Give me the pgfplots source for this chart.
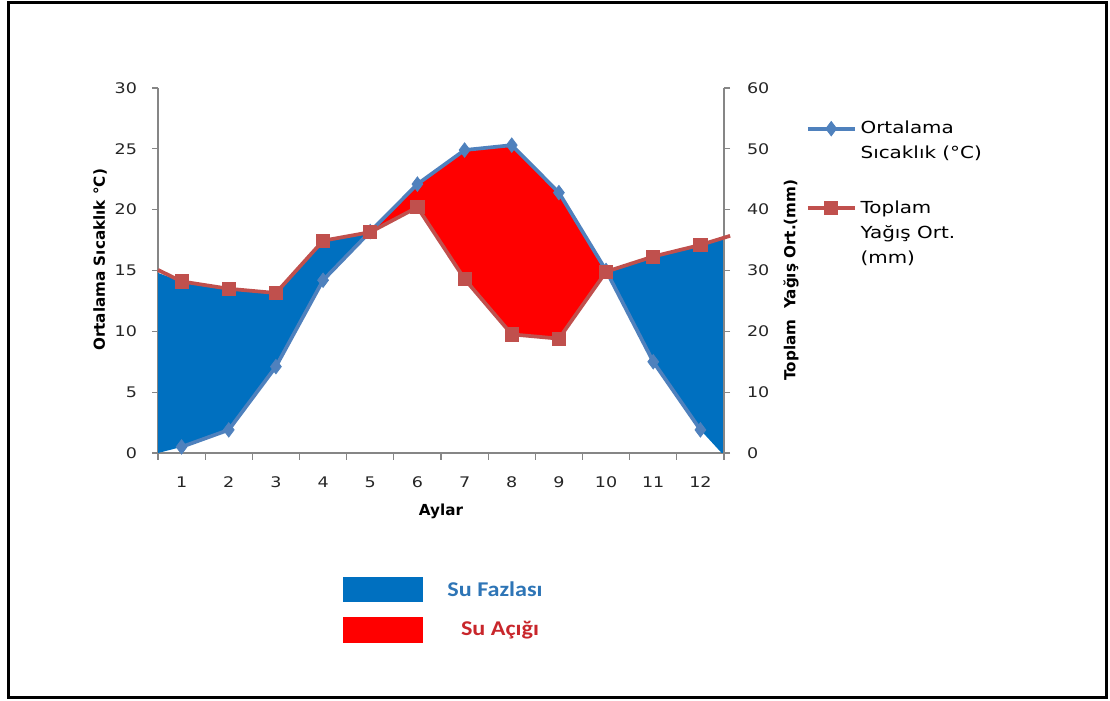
\documentclass[border=0pt]{standalone}
\usepackage{fontspec}
\setmainfont{DejaVu Sans}
\newfontfamily\tickfont{DejaVu Sans}[FakeStretch=1.2]
\newfontfamily\legfont{DejaVu Sans}[FakeStretch=1.2]
\newfontfamily\notefont{Carlito}[FakeStretch=1.15]
\usepackage{pgfplots}
\pgfplotsset{compat=1.18}

\definecolor{tempblue}{HTML}{4F81BD}
\definecolor{rainred}{HTML}{C0504D}
\definecolor{surplus}{HTML}{0070C0}
\definecolor{deficit}{HTML}{FF0000}
\definecolor{axisgray}{HTML}{868686}
\definecolor{surplustext}{HTML}{2E75B6}
\definecolor{deficittext}{HTML}{C8262B}

\pgfplotsset{
  climate/.style={
    at={(79pt,124pt)}, anchor=south west,
    scale only axis, width=283pt, height=182.5pt,
    xmin=0.5, xmax=12.5,
    axis line style={axisgray, line width=0.6pt, -},
    tick style={axisgray, line width=0.6pt},
    tick align=outside,
    major tick length=3pt, minor tick length=3.5pt,
    ticklabel style={font=\tickfont\fontsize{7.3}{8}\selectfont, text=black!85},
    /pgf/number format/assume math mode=true,
    label style={font=\bfseries\fontsize{7.6}{9}\selectfont, text=black},
  },
  templine/.style={color=tempblue, line width=1.85pt, mark=diamond*,
    mark size=3.6pt, mark options={solid, fill=tempblue, line width=0.4pt}},
  rainline/.style={color=rainred, line width=1.85pt, mark=square*,
    mark size=3.3pt, mark options={solid, fill=rainred, line width=0.4pt}},
}

\begin{document}
\begin{tikzpicture}
\path[use as bounding box] (0,0) rectangle (555pt,350.5pt);
\draw[line width=1.5pt] (4.2pt,1.6pt) rectangle (553pt,349pt);

% temperature axis (left)
\begin{axis}[climate,
  ymin=0, ymax=30,
  axis x line*=bottom, axis y line*=left,
  xtick={1,...,12}, minor xtick={0.5,1.5,...,12.5},
  major x tick style={draw=none},
  ytick={0,5,...,30},
  xticklabel style={yshift=-5.5pt},
  yticklabel style={xshift=-4pt},
  xlabel={Aylar},
  xlabel style={at={(axis description cs:0.5,0)}, anchor=center, yshift=-29pt},
  ylabel={Ortalama Sıcaklık °C)},
  ylabel style={at={(axis description cs:0,0.529)}, anchor=center, yshift=29pt},
]
% water surplus (precipitation above temperature), left part
\addplot[fill=surplus, draw=none] coordinates {
  (0.5,0) (0.5,14.8) (1,14.1) (2,13.5) (3,13.15) (4,17.45) (5,18.15)
  (4,14.2) (3,7.1) (2,1.9) (1,0.5) (0.5,0)} -- cycle;
% water surplus, right part
\addplot[fill=surplus, draw=none] coordinates {
  (10,14.9) (11,16.2) (12,17.1) (12.5,17.6) (12.5,0) (12.45,0)
  (12,1.9) (11,7.5) (10,15.0)} -- cycle;
% water deficit (temperature above precipitation)
\addplot[fill=deficit, draw=none] coordinates {
  (5,18.2) (6,22.1) (7,24.9) (8,25.3) (9,21.4) (10,15.0)
  (9,9.4) (8,9.75) (7,14.3) (6,20.2) (5,18.2)} -- cycle;
% mean temperature
\addplot[templine] coordinates {
  (1,0.5) (2,1.9) (3,7.1) (4,14.2) (5,18.2) (6,22.1)
  (7,24.9) (8,25.3) (9,21.4) (10,15.0) (11,7.5) (12,1.9)};
\end{axis}

% precipitation axis (right)
\begin{axis}[climate,
  ymin=0, ymax=60,
  axis x line=none, axis y line*=right,
  ytick={0,10,...,60},
  yticklabel style={xshift=5pt},
  clip=false,
  ylabel={Toplam\ \ Yağış Ort.(mm)},
  ylabel style={at={(axis description cs:1,0.474)}, anchor=center, yshift=-33.5pt},
  legend style={at={(axis description cs:1.144,0.922)}, anchor=north west,
    draw=none, fill=none, inner sep=0pt, row sep=15.5pt, column sep=0pt,
    font=\legfont\fontsize{8.3}{12.5}\selectfont,
    cells={anchor=west, align=left, inner xsep=0pt}},
]
\addlegendimage{templine, legend image code/.code={%
    \draw[mark repeat=2, mark phase=2, yshift=6.25pt] plot coordinates {(0pt,0pt) (11.75pt,0pt) (23.5pt,0pt)};}}
\addlegendentry{Ortalama\\Sıcaklık (°C)}
\addlegendimage{rainline, legend image code/.code={%
    \draw[mark repeat=2, mark phase=2, yshift=12.5pt] plot coordinates {(0pt,0pt) (11.75pt,0pt) (23.5pt,0pt)};}}
\addlegendentry{Toplam\\Yağış Ort.\\(mm)}
\addplot[rainline, mark indices={2,...,13}, forget plot] coordinates {
  (0.5,30.1) (1,28.2) (2,27.0) (3,26.3) (4,34.9) (5,36.3) (6,40.4)
  (7,28.6) (8,19.5) (9,18.8) (10,29.8) (11,32.3) (12,34.2) (12.63,35.7)};
\end{axis}

% water balance key
\fill[surplus] (171.5pt,49.5pt) rectangle (211.5pt,62pt);
\fill[deficit] (171.5pt,29pt) rectangle (211.5pt,42pt);
\node[font=\notefont\bfseries\fontsize{10.5}{12}\selectfont, text=surplustext] at (247.5pt,56pt) {Su Fazlası};
\node[font=\notefont\bfseries\fontsize{10.5}{12}\selectfont, text=deficittext] at (250pt,35.5pt) {Su Açığı};
\end{tikzpicture}
\end{document}
